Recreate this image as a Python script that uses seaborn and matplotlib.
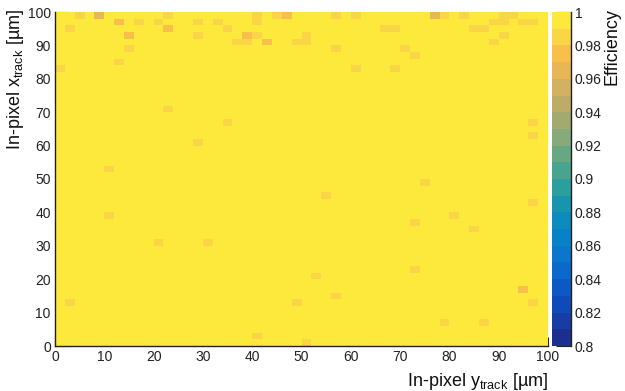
import numpy as np
import pandas as pd
import matplotlib
matplotlib.use("Agg")
import matplotlib.pyplot as plt
from matplotlib.colors import ListedColormap
from matplotlib.ticker import FixedLocator, MultipleLocator
import seaborn as sns

# Binning of the in-pixel map (2 µm bins over a 100 µm pitch)
bin_width_um = 2.0
n_bins = 50

# Cells below full efficiency: lower bin edges (µm) and measured efficiency
y_track_um = [4, 8, 12, 16, 20, 22, 22, 2, 28, 32, 34, 28, 14, 38, 40, 40, 40,
              36, 38, 42, 44, 46, 48, 14, 12, 0, 22,
              56, 60, 76, 78, 82, 90, 92, 88, 90, 94, 96, 66, 68, 84, 86,
              50, 50, 90, 88, 56, 70, 72, 60, 68,
              34, 28, 10, 10, 96, 96, 74, 54, 96, 80, 72, 84,
              20, 30, 2, 40, 48, 72, 52, 56, 94, 96, 78, 86, 50]
x_track_um = [98, 98, 96, 96, 96, 98, 94, 94, 96, 96, 94, 92, 92, 92, 92, 98, 96,
              90, 90, 90, 98, 98, 90, 88, 84, 82, 70,
              98, 98, 98, 98, 98, 98, 98, 96, 96, 96, 96, 94, 94, 94, 94,
              92, 90, 92, 90, 88, 88, 86, 82, 82,
              66, 60, 52, 38, 66, 62, 48, 44, 42, 38, 36, 34,
              30, 30, 12, 2, 12, 22, 20, 14, 16, 12, 6, 6, 0]
efficiency = [0.985, 0.965, 0.975, 0.985, 0.985, 0.985, 0.975, 0.985, 0.985, 0.985, 0.985, 0.985, 0.975, 0.975, 0.985, 0.985, 0.985,
              0.985, 0.985, 0.975, 0.985, 0.972, 0.985, 0.985, 0.985, 0.987, 0.985,
              0.985, 0.985, 0.968, 0.985, 0.985, 0.985, 0.985, 0.985, 0.985, 0.985, 0.985, 0.985, 0.985, 0.985, 0.985,
              0.985, 0.985, 0.985, 0.985, 0.985, 0.985, 0.985, 0.985, 0.985,
              0.987, 0.987, 0.987, 0.987, 0.987, 0.987, 0.987, 0.987, 0.987, 0.987, 0.987, 0.987,
              0.987, 0.987, 0.987, 0.987, 0.987, 0.987, 0.987, 0.987, 0.975, 0.987, 0.987, 0.987, 0.987]

# Axis and colour-scale ticks
axis_ticks_um = [0, 10, 20, 30, 40, 50, 60, 70, 80, 90, 100]
cbar_ticks = [0.80, 0.82, 0.84, 0.86, 0.88, 0.90, 0.92, 0.94, 0.96, 0.98, 1.0]
cbar_labels = ["0.8", "0.82", "0.84", "0.86", "0.88", "0.9", "0.92", "0.94", "0.96", "0.98", "1"]

# 20-level palette from 0.80 to 1.00
band_colors = ["#1C2F8E", "#163CA6", "#0F4BB8", "#0B5AC4", "#0B69CB",
               "#0A77CC", "#0882C6", "#0C8CBC", "#1795AE", "#2C9E9E",
               "#48A48F", "#67A883", "#86AA79", "#A3AA70", "#BCAC68",
               "#D3B160", "#E8B755", "#F8BF4B", "#FAD545", "#FDE93B"]
cmap = ListedColormap(band_colors)

grid = np.ones((n_bins, n_bins))
for yu, xu, eff in zip(y_track_um, x_track_um, efficiency):
    grid[int(xu // bin_width_um), int(yu // bin_width_um)] = eff
edges = np.arange(n_bins) * bin_width_um
eff_map = pd.DataFrame(grid, index=edges, columns=edges)

sns.set_theme(style="white")
plt.rcParams["font.family"] = ["Liberation Sans", "DejaVu Sans"]
plt.rcParams["mathtext.fontset"] = "custom"
plt.rcParams["mathtext.rm"] = "Liberation Sans"
plt.rcParams["mathtext.it"] = "Liberation Sans:italic"

fig = plt.figure(figsize=(6.25, 3.91), dpi=100)
W, H = 625.0, 391.0
ax = fig.add_axes([55 / W, 1 - 346 / H, 493 / W, 334 / H])
cax = fig.add_axes([552 / W, 1 - 346 / H, 18.5 / W, 334 / H])

sns.heatmap(eff_map, ax=ax, cbar_ax=cax, cmap=cmap, vmin=0.8, vmax=1.0,
            xticklabels=False, yticklabels=False, linewidths=0)
ax.set_ylim(0, n_bins)
ax.set_xlim(0, n_bins)

tick_color = "#222222"
for side in ["left", "bottom"]:
    ax.spines[side].set_visible(True)
    ax.spines[side].set_color(tick_color)
    ax.spines[side].set_linewidth(1.0)
for side in ["top", "right"]:
    ax.spines[side].set_visible(False)

pos = [t / bin_width_um for t in axis_ticks_um]
ax.xaxis.set_major_locator(FixedLocator(pos))
ax.yaxis.set_major_locator(FixedLocator(pos))
ax.set_xticklabels([str(t) for t in axis_ticks_um])
ax.set_yticklabels([str(t) for t in axis_ticks_um], rotation=0)
ax.xaxis.set_minor_locator(MultipleLocator(1))
ax.yaxis.set_minor_locator(MultipleLocator(1))
ax.tick_params(axis="x", which="major", direction="in", length=6.3, width=0.8,
               color=tick_color, labelsize=10, pad=3, labelcolor="#222222",
               bottom=True)
ax.tick_params(axis="x", which="minor", direction="in", length=3.4, width=0.8,
               color=tick_color, bottom=True)
ax.tick_params(axis="y", which="major", direction="in", length=10, width=0.8,
               color=tick_color, labelsize=10, pad=3, labelcolor="#222222",
               left=True)
ax.tick_params(axis="y", which="minor", direction="in", length=4.8, width=0.8,
               color=tick_color, left=True)

ax.set_xlabel("In-pixel y$_{\\mathrm{track}}$ [µm]", fontsize=13, loc="right",
              labelpad=5, color="#111111")

fig.text(16 / W, 1 - 9 / H, "In-pixel x$_{\\mathrm{track}}$ [µm]", rotation=90,
         fontsize=13, ha="center", va="top", color="#111111")

cbar = ax.collections[0].colorbar
cbar.outline.set_visible(False)
cax.spines["right"].set_visible(True)
cax.spines["right"].set_color(tick_color)
cax.spines["right"].set_linewidth(1.0)
cbar.set_ticks(cbar_ticks)
cbar.set_ticklabels(cbar_labels)
cax.yaxis.set_ticks_position("right")
cax.tick_params(axis="y", which="major", direction="in", length=11, width=0.8,
                color=tick_color, labelsize=10, pad=3, labelcolor="#222222")
cax.minorticks_off()

fig.text(612 / W, 1 - 8 / H, "Efficiency", rotation=90, fontsize=13,
         ha="center", va="top", color="#111111")

fig.savefig("out.png", dpi=100, facecolor="white")
